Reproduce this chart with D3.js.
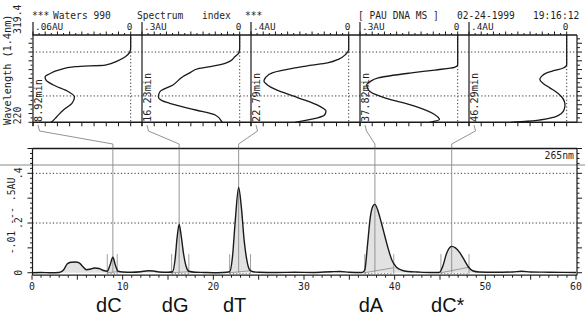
<!DOCTYPE html>
<html>
<head>
<meta charset="utf-8">
<script src="https://cdn.jsdelivr.net/npm/d3@7"></script>
<style>
  html, body { margin: 0; padding: 0; background: #fff; }
  svg { display: block; }
  .mono { font-family: "DejaVu Sans Mono", "Liberation Mono", monospace; fill: #1e1e1e; }
  .big { font-family: "Liberation Sans", Arial, sans-serif; fill: #111; }
</style>
</head>
<body>
<svg id="chart" width="585" height="320"></svg>
<script>
// ---- Peaks -------------------------------------------------------------
const peakNames   = ["dC", "dG", "dT", "dA", "dC*"];
const peakTimes   = [8.92, 16.23, 22.79, 37.82, 46.29];   // retention, min
const peakStart   = [8.3, 15.4, 21.8, 36.7, 45.1];         // integration start, min
const peakEnd     = [9.4, 17.3, 24.1, 39.9, 48.2];         // integration end, min
const skimRise    = [0.004, 0.004, 0.008, 0.02, 0.022];    // baseline AU at peak end

// ---- Spectrum panels (absorbance full scale, label) ----------------------
const panelFullScale = [0.06, 0.3, 0.4, 0.3, 0.4];
const panelScaleText = [".06AU", ".3AU", ".4AU", ".3AU", ".4AU"];

// [wavelength nm, absorbance AU]
const spectrumDC = [[319.4,0],[304.3,0],[299,0.0008],[294.7,0.0033],[290,0.008],[285.2,0.0156],
  [283.3,0.034],[279.5,0.0444],[275,0.050],[271.9,0.0526],[268,0.052],[262.5,0.0475],
  [254.8,0.0382],[249.1,0.0345],[241.6,0.0361],[234,0.0413],[226.4,0.0454],[220.7,0.0485],[220,0.049]];
const spectrumDG = [[319.4,0],[304.3,0],[299,0.003],[294.7,0.015],[290,0.028],[287.1,0.045],
  [283.5,0.09],[281.4,0.125],[276,0.155],[271.9,0.175],[262.5,0.205],[254.8,0.245],[249.1,0.25],
  [245,0.24],[241.6,0.215],[234,0.135],[228.3,0.075],[220.7,0.055],[220,0.054]];
const spectrumDT = [[319.4,0],[302.5,0],[297.2,0.013],[292,0.04],[287.7,0.087],[285,0.15],
  [282,0.22],[276.3,0.313],[271,0.34],[266.9,0.347],[262,0.33],[257.4,0.3],[247.9,0.207],
  [238.4,0.12],[232.7,0.093],[228,0.1],[225.1,0.127],[220,0.22]];
const spectrumDA = [[319.4,0],[285.6,0],[282.6,0.01],[279.5,0.07],[276.3,0.142],[270.6,0.244],
  [266,0.27],[263,0.279],[257.3,0.275],[252,0.255],[247.9,0.224],[238.4,0.132],[228.9,0.071],
  [223.2,0.056],[220,0.086]];
const spectrumDCstar = [[319.4,0],[285.6,0],[281.8,0.014],[279,0.05],[276.3,0.082],[272,0.104],
  [268.7,0.11],[264,0.095],[259.2,0.069],[254,0.04],[249.1,0.021],[244,0.01],[239.7,0.007],
  [235,0.01],[230.2,0.021],[226,0.05],[222.6,0.11],[221.2,0.16],[220,0.23]];
const spectra = [spectrumDC, spectrumDG, spectrumDT, spectrumDA, spectrumDCstar];

// ---- Chromatogram at 265 nm ------------------------------------------------
const chromTime = [0,1,2,3,3.5,3.9,4.3,4.8,5.2,5.6,6.0,6.4,6.9,7.4,7.9,8.3,8.6,8.92,9.2,9.5,
  10,11,12,12.8,13.4,14,15,15.5,15.8,16.0,16.23,16.45,16.7,17.0,17.3,18,19,20,21,21.8,
  22.1,22.4,22.79,23.1,23.4,23.7,24.0,24.4,25,27,29,31,33,34,35,36.4,36.7,37.0,37.3,37.6,
  37.82,38.1,38.5,38.9,39.3,39.7,40.2,40.8,41.5,42.5,44,44.9,45.3,45.7,46.0,46.29,46.7,47.2,
  47.7,48.1,48.6,49.3,51,53,54,55,57,60];
const chromAU = [0,0.001,0,0.001,0.012,0.036,0.042,0.043,0.040,0.025,0.012,0.014,0.019,0.017,
  0.009,0.006,0.030,0.062,0.030,0.006,
  0.003,0.002,0.004,0.008,0.007,0.003,0.002,0.004,0.060,0.140,0.194,0.150,0.080,0.025,0.006,
  0.002,0.001,0,0.001,0.004,
  0.060,0.200,0.343,0.260,0.130,0.050,0.012,0.004,0.002,0.001,0.002,0.001,0.004,0.005,0.002,
  0.001,0.010,0.110,0.220,0.268,
  0.275,0.255,0.205,0.150,0.095,0.050,0.022,0.010,0.005,0.003,0.001,0.001,0.025,0.075,0.098,
  0.106,0.100,0.080,
  0.050,0.025,0.008,0.003,0.002,0.003,0.006,0.003,0.002,0.001];

const timeTicks = [0, 10, 20, 30, 40, 50, 60];
const auTicks = [0, 0.2, 0.4];
const auTickText = ["0", ".2", ".4"];
const gridNm = [250, 300];

// ---- Geometry ----------------------------------------------------------------
const svg = d3.select("#chart");
svg.append("rect").attr("width", 585).attr("height", 320).attr("fill", "#fff");

const frameL = 32.5, frameR = 577;
const xT = d3.scaleLinear().domain([0, 60]).range([32, 576]);
const yA = d3.scaleLinear().domain([-0.01, 0.5]).range([275.2, 148.5]);
const yW = d3.scaleLinear().domain([220, 319.4]).range([122.3, 35]);
const panelLeft = d3.scaleLinear().domain([0, 4]).range([33, 469]);
const panelW = 97.7;
const ink = "#1a1a1a";

// ---- Header ----------------------------------------------------------------
const header = [["***", 32], ["Waters 990", 53], ["Spectrum", 137], ["index", 202], ["***", 245],
  ["[ PAU DNA MS ]", 358], ["02-24-1999", 457], ["19:16:12", 533]];
svg.append("g").selectAll("text").data(header).join("text")
  .attr("class", "mono").attr("font-size", 9.6)
  .attr("x", d => d[1]).attr("y", 18.5).text(d => d[0]);

// ---- Spectrum index frame ---------------------------------------------------
const specG = svg.append("g");
specG.append("line").attr("x1", frameL).attr("x2", frameR).attr("y1", yW(319.4)).attr("y2", yW(319.4))
  .attr("stroke", ink).attr("stroke-width", 1.4);
specG.append("line").attr("x1", frameL).attr("x2", frameR).attr("y1", yW(220)).attr("y2", yW(220))
  .attr("stroke", ink).attr("stroke-width", 1.4);
specG.append("line").attr("x1", frameR).attr("x2", frameR).attr("y1", yW(319.4)).attr("y2", yW(220))
  .attr("stroke", ink).attr("stroke-width", 1.2);

// wavelength ticks on both sides
const nmTicks = d3.range(220, 320, 5);
specG.append("g").selectAll("line").data(nmTicks).join("line")
  .attr("x1", d => frameL - (d % 10 === 0 ? 4 : 2)).attr("x2", frameL)
  .attr("y1", d => yW(d)).attr("y2", d => yW(d)).attr("stroke", ink);
specG.append("g").selectAll("line").data(nmTicks).join("line")
  .attr("x1", frameR).attr("x2", d => frameR + (d % 10 === 0 ? 5 : 3))
  .attr("y1", d => yW(d)).attr("y2", d => yW(d)).attr("stroke", ink);

// dotted wavelength grid
specG.append("g").selectAll("line").data(gridNm).join("line")
  .attr("x1", frameL).attr("x2", frameR).attr("y1", d => yW(d)).attr("y2", d => yW(d))
  .attr("stroke", "#333").attr("stroke-width", 1).attr("stroke-dasharray", "1.2,2.2");

// axis labels on the left
specG.append("text").attr("class", "mono").attr("font-size", 10.2)
  .attr("transform", `translate(11,125) rotate(-90)`).text("Wavelength (1.4nm)");
specG.append("text").attr("class", "mono").attr("font-size", 9.8)
  .attr("transform", `translate(20.5,${yW(220) + 2}) rotate(-90)`).text("220");
specG.append("text").attr("class", "mono").attr("font-size", 9.8)
  .attr("transform", `translate(20.5,${yW(319.4) - 1}) rotate(-90)`).text("319.4");

// one panel per peak
peakTimes.forEach((t, i) => {
  const L = panelLeft(i), Z = L + panelW;
  const xAbs = d3.scaleLinear().domain([panelFullScale[i], 0]).range([L, Z]);
  const g = specG.append("g");

  // panel divider (solid) and zero line (dotted)
  g.append("line").attr("x1", L).attr("x2", L).attr("y1", 22).attr("y2", 126)
    .attr("stroke", ink).attr("stroke-width", 1.2);
  g.append("line").attr("x1", xAbs(0)).attr("x2", xAbs(0)).attr("y1", yW(319.4)).attr("y2", yW(220))
    .attr("stroke", "#333").attr("stroke-dasharray", "1.2,2.2");

  // absorbance ticks, top and bottom
  const fr = d3.range(0, 17);
  g.append("g").selectAll("line").data(fr).join("line")
    .attr("x1", d => L + d * panelW / 16).attr("x2", d => L + d * panelW / 16)
    .attr("y1", yW(319.4)).attr("y2", d => yW(319.4) - (d % 2 === 0 ? 3.5 : 2))
    .attr("stroke", ink);
  g.append("g").selectAll("line").data(d3.range(0, 9)).join("line")
    .attr("x1", d => L + d * panelW / 8).attr("x2", d => L + d * panelW / 8)
    .attr("y1", yW(220)).attr("y2", yW(220) + 4).attr("stroke", ink);

  // scale labels
  g.append("text").attr("class", "mono").attr("font-size", 9.4)
    .attr("x", L + 2).attr("y", 29.8).text(panelScaleText[i]);
  g.append("text").attr("class", "mono").attr("font-size", 9.4).attr("text-anchor", "middle")
    .attr("x", xAbs(0) - 1).attr("y", 29.8).text("0");

  // retention time label
  g.append("text").attr("class", "mono").attr("font-size", 10.2)
    .attr("transform", `translate(${L + 9},122) rotate(-90)`)
    .text(t.toFixed(2) + "min");

  // spectrum trace
  const line = d3.line().x(d => xAbs(d[1])).y(d => yW(d[0])).curve(d3.curveMonotoneY);
  g.append("path").attr("d", line(spectra[i])).attr("fill", "none")
    .attr("stroke", ink).attr("stroke-width", 1.3);

  // connector from panel down to the peak on the chromatogram
  const xp = xT(t);
  g.append("path")
    .attr("d", d3.line()([[L + 5, 125], [L + 6.5, 131], [xp, 144], [xp, yA(0.5)]]))
    .attr("fill", "none").attr("stroke", "#777").attr("stroke-width", 0.8);
});

// ---- Chromatogram ------------------------------------------------------------
const bot = svg.append("g");
const chrom = chromTime.map((t, i) => [t, chromAU[i]]);

// paper fold line across the page
bot.append("line").attr("x1", 0).attr("x2", 585).attr("y1", 165).attr("y2", 165)
  .attr("stroke", "#8a8a8a").attr("stroke-width", 1);

// frame
bot.append("line").attr("x1", frameL).attr("x2", frameR).attr("y1", yA(0.5)).attr("y2", yA(0.5))
  .attr("stroke", ink).attr("stroke-width", 1.6);
bot.append("line").attr("x1", frameL).attr("x2", frameL).attr("y1", yA(0.5)).attr("y2", yA(-0.01))
  .attr("stroke", ink).attr("stroke-width", 1.2);
bot.append("line").attr("x1", frameR).attr("x2", frameR).attr("y1", yA(0.5)).attr("y2", yA(-0.01))
  .attr("stroke", ink).attr("stroke-width", 1.2);
bot.append("line").attr("x1", frameL).attr("x2", frameR).attr("y1", yA(-0.01)).attr("y2", yA(-0.01))
  .attr("stroke", ink).attr("stroke-width", 1.2);

// dotted AU grid
bot.append("g").selectAll("line").data([0.2, 0.4]).join("line")
  .attr("x1", frameL).attr("x2", frameR).attr("y1", d => yA(d)).attr("y2", d => yA(d))
  .attr("stroke", "#333").attr("stroke-dasharray", "1.2,2.2");

// AU ticks
const auMinor = d3.range(0, 0.5001, 0.02);
bot.append("g").selectAll("line").data(auMinor).join("line")
  .attr("x1", (d, i) => frameL - (i % 5 === 0 ? 5 : 2.5)).attr("x2", frameL)
  .attr("y1", d => yA(d)).attr("y2", d => yA(d)).attr("stroke", ink);
bot.append("g").selectAll("line").data(auMinor).join("line")
  .attr("x1", frameR).attr("x2", (d, i) => frameR + (i % 5 === 0 ? 5 : 2.5))
  .attr("y1", d => yA(d)).attr("y2", d => yA(d)).attr("stroke", ink);

// time ticks
const tMinor = d3.range(0, 61, 1);
bot.append("g").selectAll("line").data(tMinor).join("line")
  .attr("x1", d => xT(d)).attr("x2", d => xT(d))
  .attr("y1", yA(-0.01)).attr("y2", d => yA(-0.01) + (d % 5 === 0 ? 4.5 : 2.5)).attr("stroke", ink);

bot.append("g").selectAll("text").data(timeTicks).join("text")
  .attr("class", "mono").attr("font-size", 9.8).attr("text-anchor", "middle")
  .attr("x", d => xT(d)).attr("y", 290).text(d => d);

bot.append("g").selectAll("text").data(auTicks).join("text")
  .attr("class", "mono").attr("font-size", 9.8).attr("text-anchor", "middle")
  .attr("transform", d => `translate(22,${yA(d)}) rotate(-90)`)
  .text((d, i) => auTickText[i]);
bot.append("text").attr("class", "mono").attr("font-size", 9.8).attr("text-anchor", "middle")
  .attr("transform", `translate(14.5,216) rotate(-90)`).text("-.01 --- .5AU");
bot.append("text").attr("class", "mono").attr("font-size", 9.8).attr("text-anchor", "end")
  .attr("x", 574).attr("y", 159).text("265nm");

// shaded area under the trace
bot.append("path")
  .attr("d", d3.area().x(d => xT(d[0])).y0(yA(0)).y1(d => yA(d[1])).curve(d3.curveMonotoneX)(chrom))
  .attr("fill", "#e2e2e2");

// retention markers
bot.append("g").selectAll("line").data(peakTimes).join("line")
  .attr("x1", d => xT(d)).attr("x2", d => xT(d)).attr("y1", yA(0.5)).attr("y2", yA(0))
  .attr("stroke", "#8a8a8a").attr("stroke-width", 0.9);

// integration limits and skimmed baselines
peakTimes.forEach((t, i) => {
  [peakStart[i], peakEnd[i]].forEach(s => {
    bot.append("line").attr("x1", xT(s)).attr("x2", xT(s))
      .attr("y1", yA(-0.004)).attr("y2", yA(0.075)).attr("stroke", "#888").attr("stroke-width", 0.8);
  });
  bot.append("line").attr("x1", xT(peakStart[i])).attr("x2", xT(peakEnd[i]))
    .attr("y1", yA(0)).attr("y2", yA(skimRise[i])).attr("stroke", "#888").attr("stroke-width", 0.8);
  bot.append("line").attr("x1", xT(peakStart[i])).attr("x2", xT(peakEnd[i]))
    .attr("y1", yA(-0.004)).attr("y2", yA(-0.004)).attr("stroke", "#777")
    .attr("stroke-dasharray", "1.2,2");
});

// trace
bot.append("path")
  .attr("d", d3.line().x(d => xT(d[0])).y(d => yA(d[1])).curve(d3.curveMonotoneX)(chrom))
  .attr("fill", "none").attr("stroke", ink).attr("stroke-width", 1.4);

// nucleoside names
bot.append("g").selectAll("text").data(peakNames).join("text")
  .attr("class", "big").attr("font-size", 20).attr("text-anchor", "middle")
  .attr("x", (d, i) => xT(peakTimes[i]) - 4).attr("y", 312).text(d => d);
</script>
</body>
</html>
